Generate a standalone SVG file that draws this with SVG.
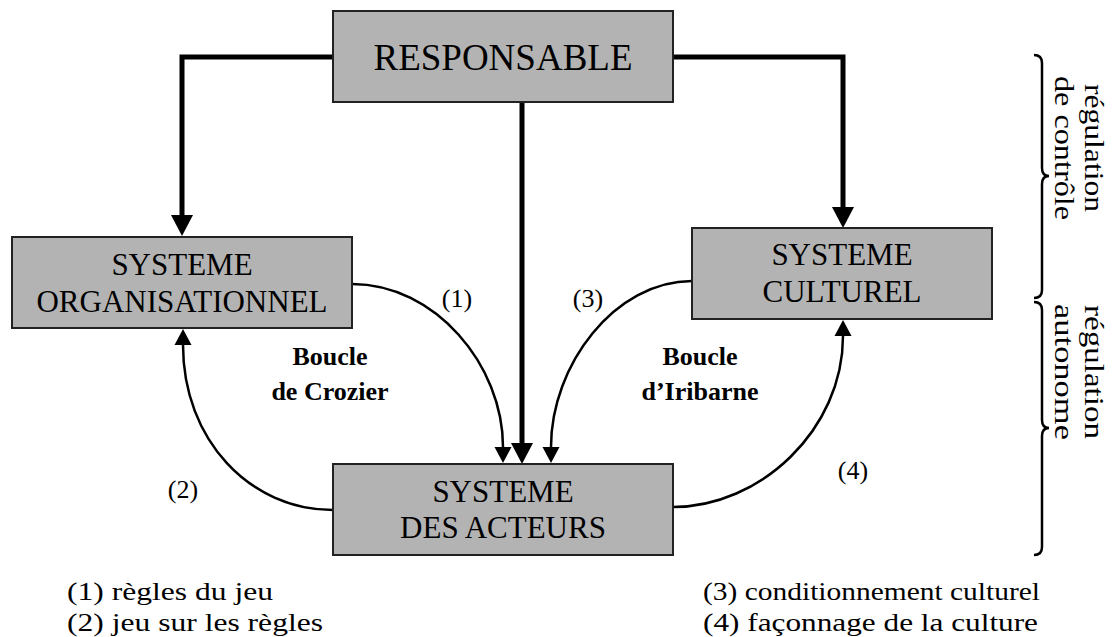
<svg xmlns="http://www.w3.org/2000/svg" width="1113" height="637" viewBox="0 0 1113 637">
  <style>
    .box { fill: #b3b3b3; stroke: #222; stroke-width: 2; }
    .t { font-family: "Liberation Serif", "Times New Roman", serif; fill: #000; }
    .lbl { font-size: 31px; text-anchor: middle; }
    .big { font-size: 37px; text-anchor: middle; }
    .bold { font-size: 26px; font-weight: bold; text-anchor: middle; }
    .num { font-size: 26px; text-anchor: middle; }
    .leg { font-size: 26px; }
    .side { font-size: 27px; text-anchor: middle; }
    .thick { fill: none; stroke: #000; stroke-width: 5; }
    .thin { fill: none; stroke: #000; stroke-width: 2.5; }
    .brace { fill: none; stroke: #000; stroke-width: 2.5; }
  </style>
  <defs>
    <marker id="bigHead" markerUnits="userSpaceOnUse" markerWidth="24" markerHeight="24" viewBox="0 -12 22 24" refX="0" refY="0" orient="auto">
      <path d="M0,-11 L21,0 L0,11 z" fill="#000"/>
    </marker>
    <marker id="smallHead" markerUnits="userSpaceOnUse" markerWidth="18" markerHeight="18" viewBox="0 -9 17 18" refX="0" refY="0" orient="auto">
      <path d="M0,-8.5 L16,0 L0,8.5 z" fill="#000"/>
    </marker>
  </defs>

  <!-- connectors -->
  <g id="connectors">
    <path class="thick" d="M333,57 H182 V215" marker-end="url(#bigHead)"/>
    <path class="thick" d="M673,57 H843 V207" marker-end="url(#bigHead)"/>
    <path class="thick" d="M522,102 V443" marker-end="url(#bigHead)"/>
    <path class="thin" d="M352,284 C435,284 503,365 503,447" marker-end="url(#smallHead)"/>
    <path class="thin" d="M692,281 C615,281 551,365 551,447" marker-end="url(#smallHead)"/>
    <path class="thin" d="M333,510 C250,510 183,440 183,345" marker-end="url(#smallHead)"/>
    <path class="thin" d="M673,507 C760,507 843,430 843,336" marker-end="url(#smallHead)"/>
  </g>

  <!-- nodes -->
  <g id="responsable">
    <rect class="box" x="333" y="11" width="340" height="91"/>
    <text class="t big" x="503" y="70">RESPONSABLE</text>
  </g>
  <g id="systeme-organisationnel">
    <rect class="box" x="12" y="237" width="340" height="91"/>
    <text class="t lbl" x="182" y="275">SYSTEME</text>
    <text class="t lbl" x="182" y="312">ORGANISATIONNEL</text>
  </g>
  <g id="systeme-culturel">
    <rect class="box" x="692" y="228" width="300" height="91"/>
    <text class="t lbl" x="842" y="265">SYSTEME</text>
    <text class="t lbl" x="842" y="302">CULTUREL</text>
  </g>
  <g id="systeme-acteurs">
    <rect class="box" x="333" y="464" width="340" height="91"/>
    <text class="t lbl" x="503" y="502">SYSTEME</text>
    <text class="t lbl" x="503" y="538">DES ACTEURS</text>
  </g>

  <!-- loop labels -->
  <g id="labels">
    <text class="t num" x="457" y="307">(1)</text>
    <text class="t num" x="588" y="307">(3)</text>
    <text class="t num" x="183" y="498">(2)</text>
    <text class="t num" x="853" y="479">(4)</text>
    <text class="t bold" x="330" y="365">Boucle</text>
    <text class="t bold" x="330" y="400">de Crozier</text>
    <text class="t bold" x="700" y="365">Boucle</text>
    <text class="t bold" x="700" y="400">d’Iribarne</text>
  </g>

  <!-- regulation braces -->
  <g id="regulation-controle">
    <path class="brace" d="M1034,55 Q1042,55 1042,63 V168 Q1042,176 1049,176 Q1042,176 1042,184 V290 Q1042,298 1034,298"/>
    <text class="t side" transform="translate(1085,148) rotate(90)" textLength="128" lengthAdjust="spacingAndGlyphs">régulation</text>
    <text class="t side" transform="translate(1055,148) rotate(90)" textLength="144" lengthAdjust="spacingAndGlyphs">de contrôle</text>
  </g>
  <g id="regulation-autonome">
    <path class="brace" d="M1034,302 Q1042,302 1042,310 V420 Q1042,428 1049,428 Q1042,428 1042,436 V547 Q1042,555 1034,555"/>
    <text class="t side" transform="translate(1085,372) rotate(90)" textLength="134" lengthAdjust="spacingAndGlyphs">régulation</text>
    <text class="t side" transform="translate(1055,372) rotate(90)" textLength="136" lengthAdjust="spacingAndGlyphs">autonome</text>
  </g>

  <!-- legend -->
  <g id="legend">
    <text class="t leg" x="67" y="600" textLength="206" lengthAdjust="spacingAndGlyphs">(1) règles du jeu</text>
    <text class="t leg" x="67" y="631" textLength="256" lengthAdjust="spacingAndGlyphs">(2) jeu sur les règles</text>
    <text class="t leg" x="703" y="600" textLength="337" lengthAdjust="spacingAndGlyphs">(3) conditionnement culturel</text>
    <text class="t leg" x="703" y="631" textLength="335" lengthAdjust="spacingAndGlyphs">(4) façonnage de la culture</text>
  </g>
</svg>
